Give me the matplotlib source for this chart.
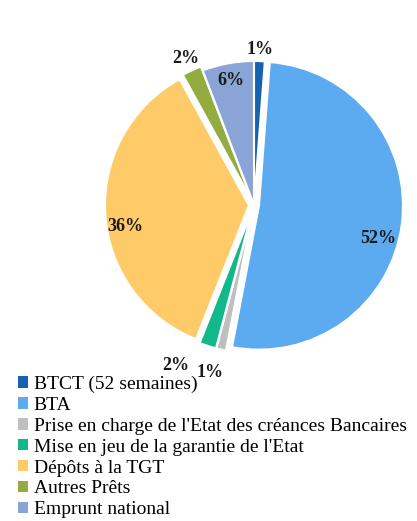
import numpy as np
import matplotlib.pyplot as plt
from matplotlib.patches import Patch

plt.rcParams['font.family'] = ['Liberation Serif', 'DejaVu Serif']

labels = ["BTCT (52 semaines)", "BTA", "Prise en charge de l'Etat des créances Bancaires",
          "Mise en jeu de la garantie de l'Etat", "Dépôts à la TGT", "Autres Prêts", "Emprunt national"]
values = [1.2, 51.8, 1.1, 1.9, 36.0, 2.2, 5.8]
pct_text = ["1%", "52%", "1%", "2%", "36%", "2%", "6%"]
colors = ["#1562AE", "#5CAAF0", "#BFBFBF", "#12B78A", "#FFCA68", "#92AC3F", "#8AA4D7"]
explode = [0.0, 0.035, 0.03, 0.03, 0.035, 0.03, 0.0]
# label placement: radius factor, angle nudge (deg)
lab_r = [1.08, 0.86, 1.17, 1.21, 0.87, 1.09, 0.88]
lab_da = [0, -8, -2, -8, 6, 0, 0]

fig = plt.figure(figsize=(4.17, 5.21), dpi=100)
ax = fig.add_axes([0.1947, 0.2749, 0.8288, 0.6633])
wedges, _ = ax.pie(values, colors=colors, explode=explode, startangle=90, counterclock=False,
                   wedgeprops=dict(edgecolor='white', linewidth=1.5))
ax.set_xlim(-1.2, 1.2)
ax.set_ylim(-1.2, 1.2)
ax.set_aspect('equal')
ax.axis('off')

for i, w in enumerate(wedges):
    ang = np.deg2rad((w.theta1 + w.theta2) / 2 + lab_da[i])
    cx, cy = w.center
    x = cx + lab_r[i] * np.cos(ang)
    y = cy + lab_r[i] * np.sin(ang)
    ax.text(x, y, pct_text[i], ha='center', va='center', fontsize=13, fontweight='bold', color='#1a1a1a')

handles = [Patch(facecolor=c, edgecolor='none') for c in colors]
fig.legend(handles, labels, loc='upper left', bbox_to_anchor=(0.043, 0.279), frameon=False,
           fontsize=14, handlelength=0.52, handleheight=0.52, handletextpad=0.3,
           labelspacing=0.2, borderaxespad=0, borderpad=0)

fig.savefig('out.png', dpi=100)
